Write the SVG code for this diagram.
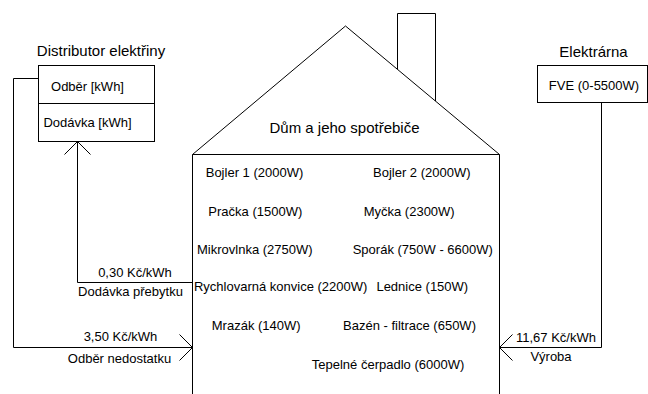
<svg xmlns="http://www.w3.org/2000/svg" width="648" height="394" viewBox="0 0 648 394">
<style>
text{font-family:"Liberation Sans",Arial,sans-serif;fill:#000;text-anchor:middle}
.t{font-size:15px}
.s{font-size:13px}
.ln{fill:none;stroke:#000;stroke-width:1}
</style>
<defs>
<marker id="arr" markerUnits="userSpaceOnUse" viewBox="-15 -15 17 30" refX="0" refY="0" markerWidth="17" markerHeight="30" orient="auto" overflow="visible">
<path d="M-13,-13 L0,0 L-13,13" fill="none" stroke="#000" stroke-width="1"/>
</marker>
</defs>
<rect width="648" height="394" fill="#fff"/>
<g id="distributor">
<text class="t" x="101" y="56">Distributor elektřiny</text>
<rect class="ln" x="38.5" y="65.5" width="116" height="76"/>
<line class="ln" x1="38.5" y1="103.5" x2="154.5" y2="103.5"/>
<text class="s" x="87.5" y="91">Odběr [kWh]</text>
<text class="s" x="87.5" y="127">Dodávka [kWh]</text>
</g>
<g id="elektrarna">
<text class="t" x="593.5" y="57">Elektrárna</text>
<rect class="ln" x="537.5" y="65.5" width="110" height="37"/>
<text class="s" x="594" y="90">FVE (0-5500W)</text>
</g>
<g id="house">
<path class="ln" d="M397.5,69 V13.5 H435.5 V101"/>
<path class="ln" d="M192.5,154.5 L345.5,26 L499.5,154.5 Z"/>
<path class="ln" d="M192.5,154.5 V400 M499.5,154.5 V400"/>
<text class="t" x="344.5" y="133">Dům a jeho spotřebiče</text>
<g class="s">
<text class="s" x="254.5" y="177">Bojler 1 (2000W)</text>
<text class="s" x="421.8" y="177">Bojler 2 (2000W)</text>
<text class="s" x="255.3" y="215.5">Pračka (1500W)</text>
<text class="s" x="409.2" y="215.5">Myčka (2300W)</text>
<text class="s" x="254.8" y="253.5">Mikrovlnka (2750W)</text>
<text class="s" x="422.8" y="253.5">Sporák (750W - 6600W)</text>
<text class="s" x="280.7" y="291">Rychlovarná konvice (2200W)</text>
<text class="s" x="422.3" y="291">Lednice (150W)</text>
<text class="s" x="256.2" y="330">Mrazák (140W)</text>
<text class="s" x="409.5" y="330">Bazén - filtrace (650W)</text>
<text class="s" x="388" y="368.5">Tepelné čerpadlo (6000W)</text>
</g>
</g>
<g id="connectors">
<path class="ln" d="M38.5,78.5 H13.5 V347.5 H192.5" marker-end="url(#arr)"/>
<path class="ln" d="M192.5,282.5 H77.5 V141.5" marker-end="url(#arr)"/>
<path class="ln" d="M601.5,102.5 V347.5 H499.5" marker-end="url(#arr)"/>
<text class="s" x="135" y="277">0,30 Kč/kWh</text>
<text class="s" x="130.5" y="296">Dodávka přebytku</text>
<text class="s" x="120.5" y="341">3,50 Kč/kWh</text>
<text class="s" x="119.5" y="363">Odběr nedostatku</text>
<text class="s" x="556" y="342">11,67 Kč/kWh</text>
<text class="s" x="551" y="361">Výroba</text>
</g>
</svg>
